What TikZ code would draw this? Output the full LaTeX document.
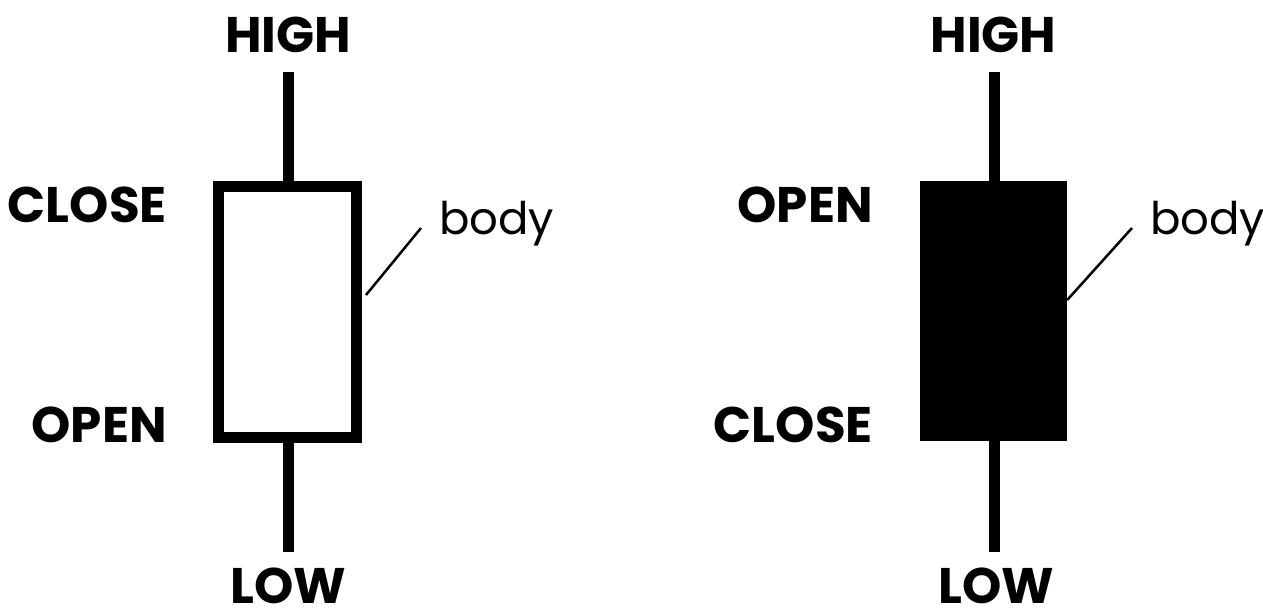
\documentclass[tikz,border=0pt]{standalone}
\usepackage{fontspec}
\setmainfont{Poppins}
\begin{document}
\begin{tikzpicture}[x=1pt,y=-1pt,
  lbl/.style={font=\fontsize{50}{50}\selectfont\bfseries, inner sep=0pt},
  note/.style={font=\fontsize{45}{45}\selectfont, inner sep=0pt, anchor=base west},
  wick/.style={line width=11pt, line cap=butt},
  pointer/.style={line width=2.5pt}]
\useasboundingbox[fill=white] (0,0) rectangle (1263,608);
% left candle (hollow)
\node[draw, line width=11pt, inner sep=0pt, minimum width=138pt, minimum height=251pt] (b1) at (287.5,312) {};
\node[lbl, anchor=base] (h1) at (288,52) {HIGH};
\node[lbl, anchor=base] (l1) at (288.5,603) {LOW};
\node[lbl, anchor=base east] (c1) at (167,222) {CLOSE};
\node[lbl, anchor=base east] (o1) at (167,442) {OPEN};
\node[note] (n1) at (439,234) {body};
\coordinate (ht1) at (288,72);
\coordinate (lt1) at (288,552);
\coordinate (p1) at (421,228);
\draw[wick] (ht1) -- (ht1 |- b1.north);
\draw[wick] (lt1 |- b1.south) -- (lt1);
\draw[pointer] (p1) -- ([yshift=17pt,xshift=4pt]b1.east);
% right candle (filled)
\node[fill=black, inner sep=0pt, minimum width=147pt, minimum height=260pt] (b2) at (993.5,311) {};
\node[lbl, anchor=base] (h2) at (993.5,52) {HIGH};
\node[lbl, anchor=base] (l2) at (996.5,603) {LOW};
\node[lbl, anchor=base east] (o2) at (873,222) {OPEN};
\node[lbl, anchor=base east] (c2) at (873,442) {CLOSE};
\node[note] (n2) at (1150,234) {body};
\coordinate (ht2) at (994,72);
\coordinate (lt2) at (994,552);
\coordinate (p2) at (1132,228);
\draw[wick] (ht2) -- (ht2 |- b2.north);
\draw[wick] (lt2 |- b2.south) -- (lt2);
\draw[pointer] (p2) -- ([yshift=11pt]b2.east);
\end{tikzpicture}
\end{document}
